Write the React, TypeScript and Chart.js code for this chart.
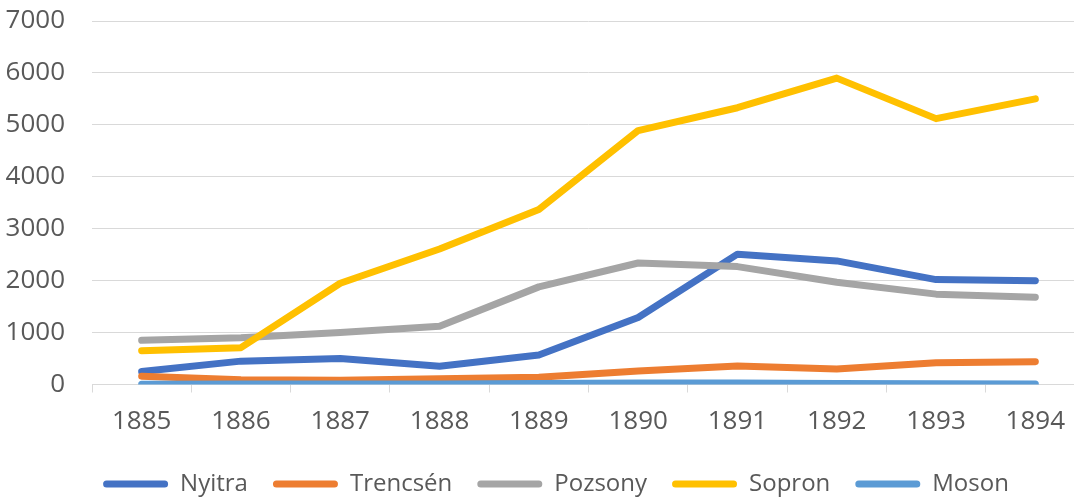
import React, { useEffect, useRef } from "react";
import { Chart, registerables } from "chart.js";

Chart.register(...registerables);

const years = ["1885", "1886", "1887", "1888", "1889", "1890", "1891", "1892", "1893", "1894"];
const nyitra = [250, 450, 500, 350, 570, 1290, 2510, 2380, 2020, 2000];
const trencsen = [160, 90, 80, 110, 140, 260, 355, 300, 420, 440];
const pozsony = [850, 900, 1000, 1120, 1880, 2340, 2270, 1970, 1740, 1680];
const sopron = [650, 710, 1950, 2610, 3370, 4890, 5330, 5900, 5120, 5500];
const moson = [5, 10, 10, 10, 20, 30, 30, 20, 15, 10];

const seriesNames = ["Nyitra", "Trencsén", "Pozsony", "Sopron", "Moson"];
const seriesColors = ["#4472C4", "#ED7D31", "#A5A5A5", "#FFC000", "#5B9BD5"];
const yTicks = [0, 1000, 2000, 3000, 4000, 5000, 6000, 7000];

const FONT = '"Open Sans", "DejaVu Sans", sans-serif';
const TEXT = "#595959";
const GRID = "#d9d9d9";

export default function App() {
  const ref = useRef<HTMLCanvasElement | null>(null);

  useEffect(() => {
    let chart: Chart | null = null;
    let cancelled = false;
    const build = () => {
      if (cancelled || !ref.current) return;
      const all = [nyitra, trencsen, pozsony, sopron, moson];
      chart = new Chart(ref.current, {
        type: "line",
        data: {
          labels: years,
          datasets: all.map((d, i) => ({
            label: seriesNames[i],
            data: d,
            borderColor: seriesColors[i],
            backgroundColor: seriesColors[i],
            borderWidth: 7,
            pointRadius: 0,
            pointHoverRadius: 0,
            tension: 0,
            borderJoinStyle: "round" as const,
            borderCapStyle: "round" as const,
            fill: false,
            order: all.length - i,
          })),
        },
        options: {
          responsive: false,
          animation: false,
          layout: { padding: { left: 0, top: 21, right: 0, bottom: 0 } },
          plugins: {
            tooltip: { enabled: false },
            legend: {
              position: "bottom",
              labels: {
                boxWidth: 65,
                boxHeight: 7,
                padding: 25,
                color: TEXT,
                font: { family: FONT, size: 24 },
                useBorderRadius: true,
                borderRadius: 3.5,
                generateLabels: () =>
                  seriesNames.map((n, i) => ({
                    text: n,
                    fillStyle: seriesColors[i],
                    strokeStyle: seriesColors[i],
                    lineWidth: 0,
                    fontColor: TEXT,
                    hidden: false,
                    datasetIndex: i,
                    borderRadius: 3.5,
                  })),
              },
            },
          },
          scales: {
            x: {
              type: "category",
              offset: true,
              afterFit: (scale: any) => {
                scale.height = 62.5;
                scale.paddingLeft = 0;
                scale.paddingRight = 27;
              },
              grid: {
                display: true,
                drawOnChartArea: false,
                drawTicks: true,
                tickLength: 8,
                color: GRID,
                offset: true,
              },
              border: { display: true, color: GRID, width: 1 },
              ticks: {
                color: TEXT,
                font: { family: FONT, size: 26 },
                padding: 13,
                maxRotation: 0,
                autoSkip: false,
              },
            },
            y: {
              min: 0,
              max: 7000,
              afterBuildTicks: (axis: any) => {
                axis.ticks = yTicks.map((v) => ({ value: v }));
              },
              afterFit: (scale: any) => {
                scale.width = 92;
                scale.paddingTop = 0;
                scale.paddingBottom = 0;
              },
              grid: { color: GRID, drawTicks: false, lineWidth: 1 },
              border: { display: false },
              ticks: {
                color: TEXT,
                font: { family: FONT, size: 26 },
                padding: 27,
                callback: (v: any) => String(v),
              },
            },
          },
        },
      });
    };
    const fontsApi = (document as any).fonts;
    if (fontsApi && fontsApi.load) {
      Promise.all([fontsApi.load('24px "Open Sans"'), fontsApi.load('26px "Open Sans"')]).then(build, build);
    } else {
      build();
    }
    return () => {
      cancelled = true;
      if (chart) chart.destroy();
    };
  }, []);

  return (
    <div
      style={{
        position: "fixed",
        left: 0,
        top: 0,
        width: 1074,
        height: 498,
        overflow: "hidden",
        background: "#ffffff",
      }}
    >
      <canvas ref={ref} width={1112} height={506} style={{ width: 1112, height: 506, display: "block" }} />
    </div>
  );
}
